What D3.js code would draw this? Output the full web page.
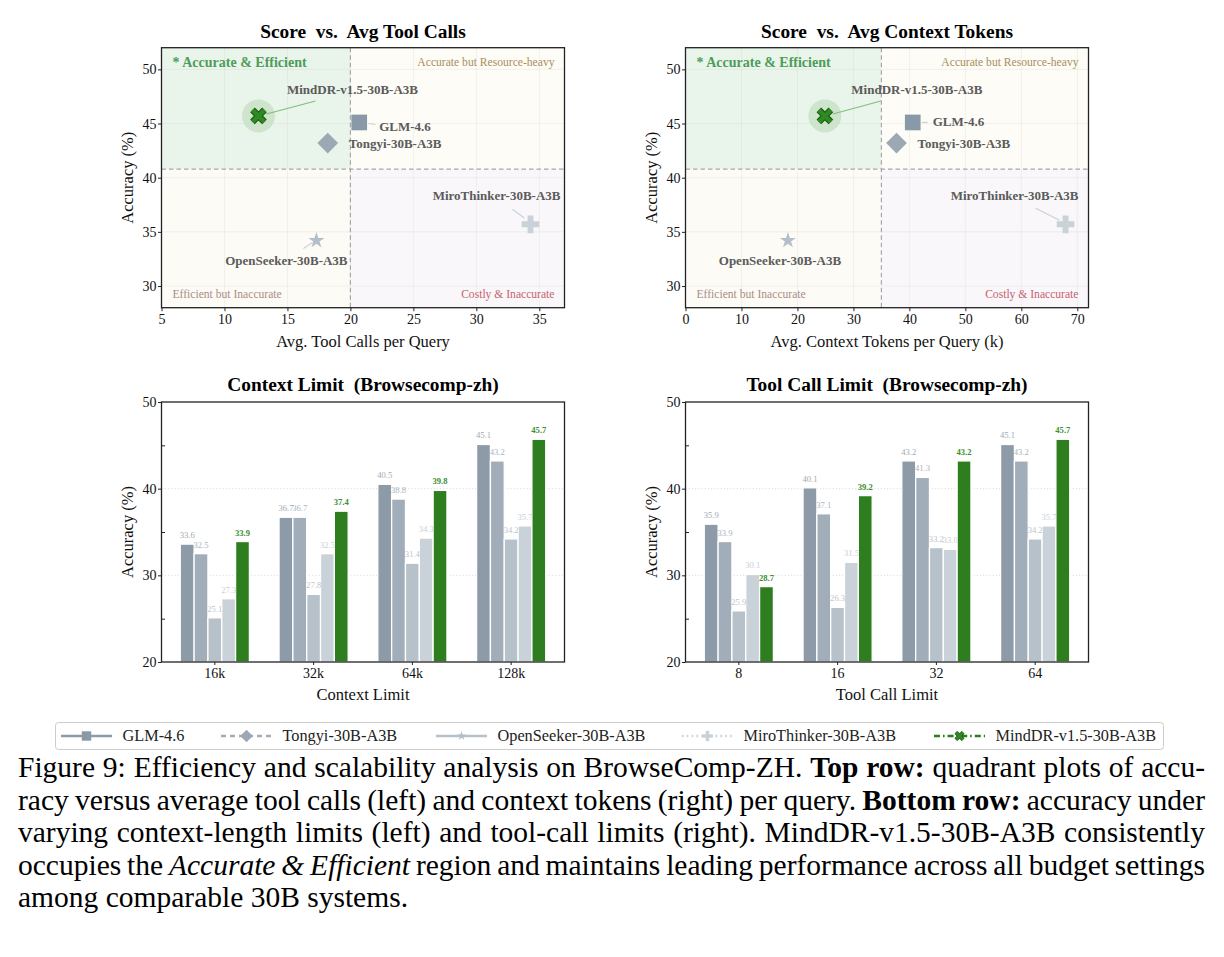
<!DOCTYPE html>
<html><head><meta charset="utf-8">
<script src="https://cdn.jsdelivr.net/npm/d3@7"></script>
<style>
body{margin:0;background:#fff;}
svg{display:block;font-family:"Liberation Serif","Times New Roman",serif;}
</style></head><body>
<svg id="c" width="1224" height="957"></svg>
<script>
// ---------------- DATA ----------------
const models = ["GLM-4.6","Tongyi-30B-A3B","OpenSeeker-30B-A3B","MiroThinker-30B-A3B","MindDR-v1.5-30B-A3B"];
// scatter (top row)
const avgToolCalls     = [20.7, 18.2, 17.3, 34.3, 12.7];
const avgContextTokens = [40.6, 37.7, 18.3, 67.9, 24.9];
const accuracy         = [45.1, 43.2, 34.2, 35.7, 45.7];
const accThreshold = 40.8, toolThreshold = 20, ctxThreshold = 35;
const toolTicks = [5,10,15,20,25,30,35];
const ctxTicks  = [0,10,20,30,40,50,60,70];
const accTicks  = [30,35,40,45,50];
// bars (bottom row)
const contextLimits = ["16k","32k","64k","128k"];
const ctxGLM        = [33.6, 36.7, 40.5, 45.1];
const ctxTongyi     = [32.5, 36.7, 38.8, 43.2];
const ctxOpenSeeker = [25.1, 27.8, 31.4, 34.2];
const ctxMiro       = [27.3, 32.5, 34.3, 35.7];
const ctxMindDR     = [33.9, 37.4, 39.8, 45.7];
const toolLimits    = ["8","16","32","64"];
const tclGLM        = [35.9, 40.1, 43.2, 45.1];
const tclTongyi     = [33.9, 37.1, 41.3, 43.2];
const tclOpenSeeker = [25.9, 26.3, 33.2, 34.2];
const tclMiro       = [30.1, 31.5, 33.0, 35.7];
const tclMindDR     = [28.7, 39.2, 43.2, 45.7];
const barTicks = [20,30,40,50];
const barMinor = [25,35,45];

// ---------------- STYLE ----------------
const FONT = "'Liberation Serif','Times New Roman',serif";
const barColors   = ["#8d9ba8","#a1adb8","#b7c1ca","#cad2d9","#2e7d1f"];
const labelColors = ["#9eaab5","#aab4be","#bcc5cd","#c9d0d7","#3b8f2e"];
const markColors  = ["#8a99a7","#9ca8b4","#b2bec9","#c9d1d9","#2e7d1f"];

const svg = d3.select("#c");

function styleAxis(g, size){
  g.attr("font-family", null).attr("font-size", null);
  g.select(".domain").remove();
  g.selectAll(".tick line").attr("stroke","#222").attr("stroke-width",1);
  g.selectAll(".tick text").attr("font-family",FONT).attr("font-size",size).attr("fill","#111");
}

function frame(left,right,top,bottom){
  svg.append("rect").attr("x",left).attr("y",top).attr("width",right-left).attr("height",bottom-top)
    .attr("fill","none").attr("stroke","#222").attr("stroke-width",1.3);
}

function titleAndLabels(cx, titleY, title, xLabel, xLabelY, yLabelX, yMid){
  svg.append("text").attr("x",cx).attr("y",titleY).attr("text-anchor","middle")
    .attr("xml:space","preserve").style("white-space","pre")
    .attr("font-size",19.4).attr("font-weight","bold").attr("fill","#000").text(title);
  svg.append("text").attr("x",cx).attr("y",xLabelY).attr("text-anchor","middle")
    .attr("font-size",16.5).attr("fill","#111").text(xLabel);
  svg.append("text").attr("transform",`translate(${yLabelX},${yMid}) rotate(-90)`).attr("text-anchor","middle")
    .attr("font-size",16.5).attr("fill","#111").text("Accuracy (%)");
}

// marker drawing
function drawMarker(g, i, cx, cy, scale){
  const s = scale || 1;
  const c = markColors[i];
  if (i===0){
    g.append("path").attr("d", d3.symbol(d3.symbolSquare, 246*s*s)()).attr("transform",`translate(${cx},${cy})`).attr("fill",c);
  } else if (i===1){
    g.append("path").attr("d", d3.symbol(d3.symbolSquare, 215*s*s)()).attr("transform",`translate(${cx},${cy}) rotate(45)`).attr("fill",c);
  } else if (i===2){
    g.append("path").attr("d", d3.symbol(d3.symbolStar, 80*s*s)()).attr("transform",`translate(${cx},${cy})`).attr("fill",c);
  } else if (i===3){
    g.append("path").attr("d", d3.symbol(d3.symbolCross, 174*s*s)()).attr("transform",`translate(${cx},${cy})`).attr("fill",c);
  } else {
    const a = 6*s;
    const d = `M${-a},${-a}L${a},${a}M${a},${-a}L${-a},${a}`;
    g.append("path").attr("d",d).attr("transform",`translate(${cx},${cy})`).attr("stroke","#1d5c14").attr("stroke-width",6.6*s).attr("fill","none");
    g.append("path").attr("d",d).attr("transform",`translate(${cx},${cy})`).attr("stroke","#2e8a22").attr("stroke-width",4.4*s).attr("fill","none");
  }
}

// ---------------- SCATTER ----------------
function drawScatter(cfg){
  const {left,right,top,bottom,xDomain,xTicks,xVals,xThresh,title,xLabel,offs} = cfg;
  const x = d3.scaleLinear().domain(xDomain).range([left,right]);
  const y = d3.scaleLinear().domain([28,52]).range([bottom,top]);
  const g = svg.append("g");
  const xt = x(xThresh), yt = y(accThreshold);
  const quads = [
    [left,top,xt-left,yt-top,"#e9f4eb"],
    [xt,top,right-xt,yt-top,"#fdfcf6"],
    [left,yt,xt-left,bottom-yt,"#fdfbf6"],
    [xt,yt,right-xt,bottom-yt,"#f9f7fa"]];
  g.selectAll("rect.q").data(quads).join("rect").attr("class","q")
    .attr("x",d=>d[0]).attr("y",d=>d[1]).attr("width",d=>d[2]).attr("height",d=>d[3]).attr("fill",d=>d[4]);
  // grid
  g.selectAll("line.gx").data(xTicks).join("line").attr("class","gx")
    .attr("x1",d=>x(d)).attr("x2",d=>x(d)).attr("y1",top).attr("y2",bottom)
    .attr("stroke","#b8b8b8").attr("stroke-opacity",0.22).attr("stroke-width",0.8);
  g.selectAll("line.gy").data(accTicks).join("line").attr("class","gy")
    .attr("y1",d=>y(d)).attr("y2",d=>y(d)).attr("x1",left).attr("x2",right)
    .attr("stroke","#b8b8b8").attr("stroke-opacity",0.22).attr("stroke-width",0.8);
  // thresholds
  g.append("line").attr("x1",xt).attr("x2",xt).attr("y1",top).attr("y2",bottom)
    .attr("stroke","#a8a8a8").attr("stroke-width",1.2).attr("stroke-dasharray","4.5,3");
  g.append("line").attr("x1",left).attr("x2",right).attr("y1",yt).attr("y2",yt)
    .attr("stroke","#a8a8a8").attr("stroke-width",1.2).attr("stroke-dasharray","4.5,3");
  // quadrant labels
  g.append("text").attr("x",left+11).attr("y",top+19).attr("font-size",14).attr("font-weight","bold")
    .attr("fill","#4d9c59").text("* Accurate & Efficient");
  g.append("text").attr("x",right-10).attr("y",top+18).attr("text-anchor","end").attr("font-size",11.6)
    .attr("fill","#a88f5c").text("Accurate but Resource-heavy");
  g.append("text").attr("x",left+11).attr("y",bottom-10).attr("font-size",11.6)
    .attr("fill","#a98d86").text("Efficient but Inaccurate");
  g.append("text").attr("x",right-10).attr("y",bottom-10).attr("text-anchor","end").attr("font-size",11.6)
    .attr("fill","#c4636c").text("Costly & Inaccurate");
  // halo for MindDR
  const mi = 4;
  g.append("circle").attr("cx",x(xVals[mi])).attr("cy",y(accuracy[mi])).attr("r",16.5)
    .attr("fill","#c6dfc3").attr("fill-opacity",0.75);
  // leaders + labels
  models.forEach((m,i)=>{
    const px = x(xVals[i]), py = y(accuracy[i]);
    const o = offs[i];
    if (o.lead){
      g.append("line").attr("x1",px+o.lead[0]).attr("y1",py+o.lead[1]).attr("x2",px+o.lead[2]).attr("y2",py+o.lead[3])
        .attr("stroke", i===4 ? "#7fbf7c" : "#c9d0d7").attr("stroke-width",1.1);
    }
  });
  models.forEach((m,i)=>{
    drawMarker(g, i, x(xVals[i]), y(accuracy[i]), 1);
  });
  models.forEach((m,i)=>{
    const px = x(xVals[i]), py = y(accuracy[i]);
    const o = offs[i];
    g.append("text").attr("x",px+o.dx).attr("y",py+o.dy).attr("dy","0.35em").attr("text-anchor",o.anchor)
      .attr("font-size",13).attr("font-weight","bold").attr("fill","#5b5b5b").text(m);
  });
  frame(left,right,top,bottom);
  const ax = svg.append("g").attr("transform",`translate(0,${bottom})`)
    .call(d3.axisBottom(x).tickValues(xTicks).tickFormat(d3.format("d")).tickSize(3.5).tickPadding(3));
  styleAxis(ax,14);
  const ay = svg.append("g").attr("transform",`translate(${left},0)`)
    .call(d3.axisLeft(y).tickValues(accTicks).tickFormat(d3.format("d")).tickSize(3.5).tickPadding(1.5));
  styleAxis(ay,14);
  titleAndLabels((left+right)/2, 38, title, xLabel, 347, left-29, (top+bottom)/2);
}

drawScatter({left:161.5,right:564.5,top:47.7,bottom:307.7,xDomain:[5,37],xTicks:toolTicks,xVals:avgToolCalls,
  xThresh:toolThreshold,title:"Score  vs.  Avg Tool Calls",xLabel:"Avg. Tool Calls per Query",
  offs:[
    {dx:20,dy:4,anchor:"start",lead:[9,1,16,2]},
    {dx:21,dy:0,anchor:"start"},
    {dx:-30,dy:20,anchor:"middle",lead:[-13,8,-4,2]},
    {dx:30,dy:-29,anchor:"end",lead:[-18,-15,-6,-6]},
    {dx:94,dy:-27,anchor:"middle",lead:[57,-15,8,-2]}]});
drawScatter({left:685.5,right:1088.5,top:47.7,bottom:307.7,xDomain:[0,72],xTicks:ctxTicks,xVals:avgContextTokens,
  xThresh:ctxThreshold,title:"Score  vs.  Avg Context Tokens",xLabel:"Avg. Context Tokens per Query (k)",
  offs:[
    {dx:20,dy:-1.5,anchor:"start",lead:[9,0,15,0]},
    {dx:21,dy:0,anchor:"start"},
    {dx:-8,dy:20,anchor:"middle"},
    {dx:13,dy:-29,anchor:"end",lead:[-30,-16,-6,-4]},
    {dx:92,dy:-27,anchor:"middle",lead:[56,-15,8,-2]}]});

// ---------------- BARS ----------------
function drawBars(cfg){
  const {left,right,top,bottom,cats,series,title,xLabel} = cfg;
  const x0 = d3.scaleBand().domain(cats).range([left,right]).paddingInner(0.3).paddingOuter(0.19);
  const x1 = d3.scaleBand().domain(d3.range(series.length)).range([0,x0.bandwidth()]).padding(0);
  const y = d3.scaleLinear().domain([20,50]).range([bottom,top]);
  const g = svg.append("g");
  g.selectAll("line.grid").data([30,40]).join("line").attr("class","grid")
    .attr("x1",left).attr("x2",right).attr("y1",d=>y(d)).attr("y2",d=>y(d))
    .attr("stroke","#d4d4d4").attr("stroke-width",0.8).attr("stroke-dasharray","1.2,2");
  series.forEach((vals,si)=>{
    g.selectAll(null).data(vals).join("rect")
      .attr("x",(d,ci)=>x0(cats[ci])+x1(si)).attr("y",d=>y(d))
      .attr("width",x1.bandwidth()).attr("height",d=>y(20)-y(d))
      .attr("fill",barColors[si]).attr("stroke","#fff").attr("stroke-width",1.3);
  });
  series.forEach((vals,si)=>{
    g.selectAll(null).data(vals).join("text")
      .attr("x",(d,ci)=>x0(cats[ci])+x1(si)+x1.bandwidth()/2).attr("y",d=>y(d)-6)
      .attr("text-anchor","middle").attr("font-size",8.6)
      .attr("font-weight", si===4 ? "bold" : "normal")
      .attr("fill",labelColors[si]).text(d=>d.toFixed(1));
  });
  frame(left,right,top,bottom);
  const ax = svg.append("g").attr("transform",`translate(0,${bottom})`)
    .call(d3.axisBottom(x0).tickSize(3).tickPadding(3.5));
  styleAxis(ax,14);
  const ay = svg.append("g").attr("transform",`translate(${left},0)`)
    .call(d3.axisLeft(y).tickValues(barTicks).tickFormat(d3.format("d")).tickSize(3.5).tickPadding(1.5));
  styleAxis(ay,14);
  const am = svg.append("g").attr("transform",`translate(${left},0)`)
    .call(d3.axisRight(y).tickValues(barMinor).tickFormat("").tickSize(3.5));
  styleAxis(am,14);
  titleAndLabels((left+right)/2, 391, title, xLabel, 700, left-29, (top+bottom)/2);
}
drawBars({left:161.5,right:564.5,top:402,bottom:662,cats:contextLimits,
  series:[ctxGLM,ctxTongyi,ctxOpenSeeker,ctxMiro,ctxMindDR],
  title:"Context Limit  (Browsecomp-zh)",xLabel:"Context Limit"});
drawBars({left:685.5,right:1088.5,top:402,bottom:662,cats:toolLimits,
  series:[tclGLM,tclTongyi,tclOpenSeeker,tclMiro,tclMindDR],
  title:"Tool Call Limit  (Browsecomp-zh)",xLabel:"Tool Call Limit"});

// ---------------- LEGEND ----------------
const lg = svg.append("g");
lg.append("rect").attr("x",55.5).attr("y",722.5).attr("width",1108).attr("height",27).attr("rx",3)
  .attr("fill","#fff").attr("stroke","#cccccc").attr("stroke-width",1);
const legendX = [61,221,436,682,934];
const legendDash = [null,"5,4",null,"1.6,3.2","6,3,1.6,3"];
const legendY = 736;
models.forEach((m,i)=>{
  const lx = legendX[i];
  lg.append("line").attr("x1",lx).attr("x2",lx+51).attr("y1",legendY).attr("y2",legendY)
    .attr("stroke",barColors[i]).attr("stroke-width",2.6).attr("stroke-dasharray",legendDash[i]);
  drawMarker(lg, i, lx+25.5, legendY, i===2 ? 0.55 : 0.6);
  lg.append("text").attr("x",lx+61.5).attr("y",legendY).attr("dy","0.33em")
    .attr("font-size",16.3).attr("fill","#222").text(m);
});

// ---------------- CAPTION ----------------
const captionLines = [
  [["Figure 9: Efficiency and scalability analysis on BrowseComp-ZH.","n"],["Top row:","b"],["quadrant plots of accu-","n"]],
  [["racy versus average tool calls (left) and context tokens (right) per query.","n"],["Bottom row:","b"],["accuracy under","n"]],
  [["varying context-length limits (left) and tool-call limits (right). MindDR-v1.5-30B-A3B consistently","n"]],
  [["occupies the","n"],["Accurate & Efficient","i"],["region and maintains leading performance across all budget settings","n"]],
  [["among comparable 30B systems.","n"]]
];
const capX0 = 18, capX1 = 1205, capSize = 29.5;
const capBase = [777, 809.5, 842, 874.5, 907];
const cg = svg.append("g");
function measure(word, st){
  const t = cg.append("text").attr("font-size",capSize).attr("font-weight",st==="b"?"bold":"normal")
    .attr("font-style",st==="i"?"italic":"normal").text(word);
  const w = t.node().getComputedTextLength(); t.remove(); return w;
}
captionLines.forEach((segs,li)=>{
  const words = [];
  segs.forEach(([txt,st])=>txt.split(" ").forEach(w=>words.push({w,st})));
  words.forEach(o=>o.width = measure(o.w,o.st));
  const total = d3.sum(words,o=>o.width);
  const justify = li < captionLines.length-1;
  const gap = justify ? (capX1-capX0-total)/(words.length-1) : capSize*0.25;
  let cx = capX0;
  words.forEach(o=>{
    cg.append("text").attr("x",cx).attr("y",capBase[li]).attr("font-size",capSize)
      .attr("font-weight",o.st==="b"?"bold":"normal").attr("font-style",o.st==="i"?"italic":"normal")
      .attr("fill","#000").text(o.w);
    cx += o.width + gap;
  });
});
</script>
</body></html>
